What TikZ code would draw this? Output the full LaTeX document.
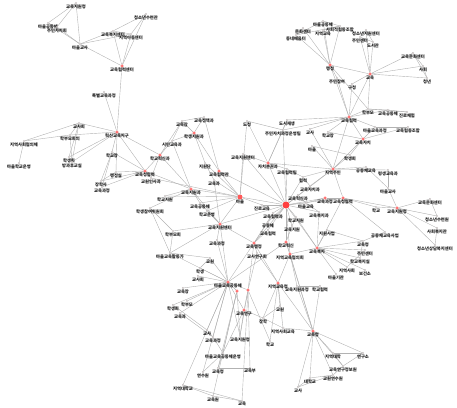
\documentclass[tikz,border=0pt]{standalone}
\usepackage{fontspec}
\newfontfamily\kfont{Noto Sans CJK KR}
\usetikzlibrary{backgrounds}
\tikzset{
 nd/.style={circle, fill=red!8, draw=gray!60, line width=0.2pt, inner sep=0pt, minimum size=1.8pt},
 hub/.style={circle, fill=red!60, draw=red!40, line width=0.2pt, inner sep=0pt, minimum size=3pt},
 hubm/.style={circle, fill=red!65, inner sep=0pt, minimum size=5pt},
 bighub/.style={circle, fill=red!75, inner sep=0pt, minimum size=7pt},
 lab/.style={font=\kfont\bfseries\fontsize{4.3}{4.3}\selectfont, inner sep=0.2pt, text=black!90},
 edge/.style={draw=gray!60, line width=0.4pt}
}
\newcommand{\mknode}[5]{\node[#1,label={[lab]below:#5}] (#2) at (#3,#4) {};}
\begin{document}
\begin{tikzpicture}[x=1pt,y=-1pt]
\useasboundingbox (0,0) rectangle (457,407);
% top-left
\mknode{nd}{a1}{76}{3}{교육지원청}
\mknode{nd}{a2}{48}{23}{마을공동체}
\mknode{nd}{a3}{57}{27}{주민자치회}
\mknode{nd}{a4}{80}{44}{마을교사}
\mknode{nd}{a5}{146}{14}{청소년수련관}
\mknode{nd}{a6}{113}{31}{교육복지센터}
\mknode{nd}{a7}{131}{34}{지역아동센터}
\mknode{hub}{HA}{122}{66}{교육협력센터}
\mknode{nd}{a9}{104}{92}{특별교육과정}
% left
\mknode{hub}{HB}{117}{132}{혁신교육지구}
\mknode{nd}{b1}{79}{123}{교사회}
\mknode{nd}{b2}{70}{135}{학부모회의}
\mknode{nd}{b3}{24}{141}{지역사회협의체}
\mknode{nd}{b4}{19}{163}{마을학교운영}
\mknode{nd}{b5}{69}{157}{학생회}
\mknode{nd}{b6}{72}{162}{방과후교실}
\mknode{nd}{b7}{112}{152}{학교장}
\mknode{nd}{b8}{116}{172}{행정실}
\mknode{nd}{b9}{101}{181}{장학사}
\mknode{nd}{b10}{102}{187}{교육과정}
\mknode{hub}{HC}{145}{171}{교육청협력}
% center-upper
\mknode{nd}{c1}{182}{121}{교육감}
\mknode{nd}{c2}{204}{117}{교육정책과}
\mknode{hub}{c3}{194}{133}{학생지원과}
\mknode{nd}{c4}{172}{141}{시민교육과}
\mknode{hub}{c5}{160}{155}{학교혁신과}
\mknode{nd}{c6}{151}{178}{교원인사과}
\mknode{nd}{c7}{205}{163}{지원단}
\mknode{hub}{c8}{219}{171}{교육협력관}
\mknode{nd}{c9}{214}{180}{교육과}
\mknode{hub}{c10}{191}{189}{교육지원과}
\mknode{nd}{c11}{165}{196}{학교지원}
\mknode{hubm}{HE}{240}{197}{마을}
\mknode{nd}{d1}{247}{121}{도청}
\mknode{nd}{d2}{243}{154}{교육지원센터}
\mknode{hub}{HF}{268}{163}{자치분권과}
\mknode{nd}{d3}{283}{130}{주민자치과정운영팀}
\mknode{nd}{d4}{287}{120}{도시재생}
\mknode{nd}{d5}{287}{169}{교육협력팀}
\mknode{nd}{d6}{303}{177}{협력}
\mknode{bighub}{BIG}{286}{205}{}
% upper-right
\mknode{hub}{e1}{330}{65}{행정}
\mknode{hub}{e2}{370}{74}{교육}
\mknode{nd}{e3}{296}{35}{동네배움터}
\mknode{nd}{e4}{323}{21}{마을공동체}
\mknode{nd}{e5}{323}{30}{지역교육}
\mknode{nd}{e6}{340}{26}{사회적협동조합}
\mknode{nd}{e7}{303}{28}{문화센터}
\mknode{nd}{e8}{366}{30}{청소년지원센터}
\mknode{nd}{e9}{360}{37}{주민센터}
\mknode{nd}{e10}{373}{42}{도서관}
\mknode{nd}{e11}{413}{53}{교육문화센터}
\mknode{nd}{e12}{423}{66}{사회}
\mknode{nd}{e13}{427}{78}{청년}
\mknode{nd}{e14}{337}{78}{주민참여}
\mknode{nd}{e15}{352}{84}{구청}
% right-mid
\mknode{hub}{R1}{349}{117}{교육협력}
\mknode{nd}{f1}{368}{109}{학부모}
\mknode{nd}{f2}{388}{110}{교육공동체}
\mknode{nd}{f3}{407}{112}{진로체험}
\mknode{nd}{f4}{310}{129}{교사}
\mknode{nd}{f5}{328}{132}{학교장}
\mknode{nd}{f6}{375}{127}{마을교육과정}
\mknode{nd}{f7}{408}{127}{교육협동조합}
\mknode{hub}{R2}{363}{139}{교육자치}
\mknode{nd}{f8}{312}{146}{마을}
\mknode{nd}{f9}{350}{155}{학생회}
\mknode{hub}{R3}{333}{169}{지역주민}
\mknode{nd}{f10}{366}{167}{공동체교육}
\mknode{nd}{f11}{388}{170}{평생교육과}
\mknode{nd}{f12}{388}{188}{마을교사}
\mknode{hub}{R4}{325}{198}{교육과정}
\mknode{hub}{R5}{343}{198}{교육청협력}
\mknode{hub}{R6}{397}{208}{교육지원청}
\mknode{nd}{f13}{376}{207}{학교}
\mknode{nd}{f14}{430}{199}{교육문화센터}
\mknode{nd}{f15}{437}{216}{청소년수련원}
% R7 area
\mknode{hub}{R7}{317}{248}{교육복지}
\mknode{nd}{g1}{327}{230}{지원사업}
\mknode{nd}{g2}{363}{241}{교육청}
\mknode{nd}{g3}{365}{250}{주민센터}
\mknode{nd}{g4}{360}{258}{학교복지실}
\mknode{nd}{g5}{347}{267}{지역사회}
\mknode{nd}{g6}{336}{274}{마을기관}
\mknode{nd}{g7}{365}{270}{보건소}
\mknode{nd}{g8}{385}{232}{공동체교육사업}
\mknode{nd}{g9}{437}{228}{사회복지관}
\mknode{nd}{g10}{435}{245}{청소년상담복지센터}
% lower-right
\mknode{nd}{h1}{297}{286}{교육지원과정}
\mknode{nd}{h2}{320}{286}{학교협력}
\mknode{hub}{R8}{313}{331}{교육청}
\mknode{nd}{i1}{333}{353}{지역대학}
\mknode{nd}{i2}{363}{353}{연구소}
\mknode{nd}{i3}{343}{366}{교육연구정보원}
\mknode{nd}{i4}{333}{375}{교원연수원}
\mknode{nd}{i5}{310}{378}{대학교}
\mknode{nd}{i6}{298}{387}{교사}
% around big hub
\mknode{nd}{m1}{298}{195}{교육혁신과}
\mknode{nd}{m2}{306}{203}{마을교육}
\mknode{nd}{m3}{296}{217}{학교지원}
\mknode{nd}{m4}{273}{213}{교육협력과}
\mknode{nd}{m5}{292}{226}{교육지원}
\mknode{nd}{m6}{268}{222}{공동체}
\mknode{nd}{m7}{319}{212}{교육복지과}
\mknode{nd}{m8}{262}{205}{진로교육}
\mknode{nd}{m9}{310}{186}{교육자치과}
\mknode{nd}{m10}{268}{230}{교육협력}
% center-lower
\mknode{nd}{j1}{150}{208}{학생참여위원회}
\mknode{nd}{j2}{200}{203}{교육공동체}
\mknode{nd}{j3}{207}{211}{학교운영}
\mknode{hub}{R9}{220}{224}{교육지원센터}
\mknode{nd}{j4}{173}{231}{학부모회}
\mknode{nd}{j5}{170}{253}{마을교육활동가}
\mknode{nd}{j6}{217}{240}{교육과정}
\mknode{hub}{R10}{254}{243}{교육행정}
\mknode{nd}{j7}{257}{253}{교사연구회}
\mknode{hub}{R11}{286}{242}{학교혁신}
\mknode{hub}{R12}{290}{254}{지역교육협의회}
\mknode{nd}{j9}{210}{258}{교원}
\mknode{nd}{j10}{200}{268}{학생}
\mknode{nd}{j11}{198}{276}{교사회}
\mknode{hub}{R13}{228}{282}{마을교육공동체}
\mknode{hub}{R14}{278}{283}{지역교육청}
\mknode{nd}{j12}{183}{288}{교육장}
\mknode{hub}{R15}{237}{291}{}
\mknode{hub}{R16}{248}{290}{}
\mknode{nd}{k1}{187}{301}{학부모}
\mknode{nd}{k2}{173}{305}{학생회}
\mknode{nd}{k3}{180}{313}{교육과}
\mknode{nd}{k4}{207}{330}{교사}
\mknode{nd}{k5}{213}{337}{교육과정}
\mknode{nd}{k6}{240}{336}{교육지원청}
\mknode{nd}{k7}{223}{353}{마을교육공동체운영}
\mknode{nd}{k8}{218}{368}{교육청}
\mknode{nd}{k9}{250}{368}{교육부}
\mknode{nd}{k10}{270}{341}{학교}
\mknode{hub}{R17}{244}{310}{교육연구}
\mknode{nd}{k12}{263}{318}{장학}
\mknode{nd}{k13}{280}{306}{교원}
\mknode{nd}{k14}{283}{328}{지역사회교육}
\mknode{nd}{k15}{183}{385}{지역대학교}
\mknode{nd}{k16}{213}{396}{교육원}
\mknode{nd}{k17}{242}{401}{교육}
\mknode{nd}{k18}{203}{372}{연수원}
\begin{pgfonlayer}{background}
\foreach \u/\v in {a1/a2,a1/a3,a1/a4,a2/a3,a2/a4,a3/a4,a4/a6,a4/a7,a4/HA,a6/HA,a7/HA,a5/a6,a5/a7,a5/HA,a6/a7,HA/HB,a9/HB,
 HB/b1,HB/b2,HB/b5,HB/b6,HB/b7,HB/HC,HB/b8,b1/b2,b1/b3,b2/b3,b3/b4,b1/b5,b2/b6,b1/b6,b7/b9,b7/b10,b7/HC,b8/HC,HC/b9,HC/b10,b8/b9,HB/c5,HC/c5,HC/c6,HC/c10,
 c1/c3,c2/c3,c1/c4,c3/c4,c1/c5,c4/c5,c3/c7,c3/c8,c2/c8,c5/c6,c5/c10,c4/c10,c7/HE,c8/HE,c9/HE,c10/HE,c6/HE,c11/c10,c11/HE,c7/c9,c1/c2,d1/HE,d1/HF,d2/HE,d2/HF,d2/BIG,HE/BIG,HF/BIG,HF/d3,HF/d4,d3/d4,d3/BIG,d1/d3,HF/d5,d5/BIG,d6/BIG,HF/R3,d3/R1,d4/R1,d5/d6,c8/BIG}
 \draw[edge] (\u) -- (\v);
\foreach \u/\v in {e1/e3,e1/e4,e1/e5,e1/e6,e1/e7,e3/e4,e3/e6,e4/e6,e3/e7,e5/e6,e1/e2,e1/e14,e2/e8,e2/e9,e2/e10,e2/e11,e2/e12,e2/e13,e11/e12,e11/e13,e12/e13,e8/e9,e9/e10,e8/e10,e2/e15,e2/R1,e1/R1,e14/R1,e15/R1,e1/f1,e2/f1,
 R1/f1,R1/f2,f1/f2,f2/f3,f1/f3,R1/f4,R1/f5,R1/R2,f5/R2,f6/R2,f7/R2,f6/f7,R1/f6,R1/R3,f4/R3,f8/R3,f9/R3,f8/f9,R2/f9,R2/R3,R3/f10,R3/f11,f10/f12,f11/f12,R3/BIG,R3/m9,R3/d6,R3/R5,R4/R5,R5/f13,R5/R6,R6/f14,R6/f15,f14/f15,R6/f13,R4/BIG,R5/BIG,R4/m2,R5/R7,f12/R6}
 \draw[edge] (\u) -- (\v);
\foreach \u/\v in {R7/g1,R7/g2,R7/g3,R7/g4,R7/g5,R7/g6,R7/g7,g2/g4,g3/g5,g1/g2,R7/R12,R7/BIG,g8/R5,g8/g2,g9/g10,g9/R6,g10/R6,
 BIG/m1,BIG/m2,BIG/m3,BIG/m4,BIG/m5,BIG/m6,BIG/m7,BIG/m8,BIG/m9,BIG/m10,m1/m2,m3/m5,m4/m6,m2/m7,BIG/R11,BIG/R12,BIG/R10,BIG/R9,m4/R10,m6/R10,m5/R11,m3/R7,m7/R7,m8/HE,m10/R10,m9/d6}
 \draw[edge] (\u) -- (\v);
\foreach \u/\v in {HE/j2,HE/j3,HE/R9,R9/j2,R9/j3,R9/j4,R9/j5,R9/j6,R9/R10,j1/j4,j1/j5,j4/j5,j1/c10,c10/j2,c10/R9,R9/c9,j6/R13,R10/j7,R10/R13,R10/R14,R11/R12,R11/R13,R12/R14,R12/R8,R11/R8,R12/h1,h1/h2,h1/R8,h2/R8,R14/R8,
 R13/j9,R13/j10,R13/j11,R13/j12,R13/k1,R13/k2,R13/k3,R13/k4,R13/k5,R13/R15,R13/R16,R13/k6,R13/R17,R15/k6,R15/k7,R15/k8,R16/k6,R16/k9,R16/k10,R16/R17,R17/k12,R17/k6,R17/k7,k12/k13,k12/k14,R14/k13,R14/k14,R14/k10,R14/k12,k4/k5,k5/k7,k7/k8,k8/k9,k15/k16,k16/k17,k15/k17,k15/R13,k16/R15,k17/R16,k18/R13,k18/k7,k3/k5,k2/k4,j5/R13,j5/j9,j9/j10,R10/R16,j7/R14,j7/R16,R9/R13,
 R8/i1,R8/i2,R8/i3,R8/i4,R8/i5,R8/i6,i1/i2,i1/i3,i3/i4,i4/i5,i5/i6,i2/i3,R8/k14,i6/i4}
 \draw[edge] (\u) -- (\v);
\end{pgfonlayer}
\end{tikzpicture}
\end{document}
